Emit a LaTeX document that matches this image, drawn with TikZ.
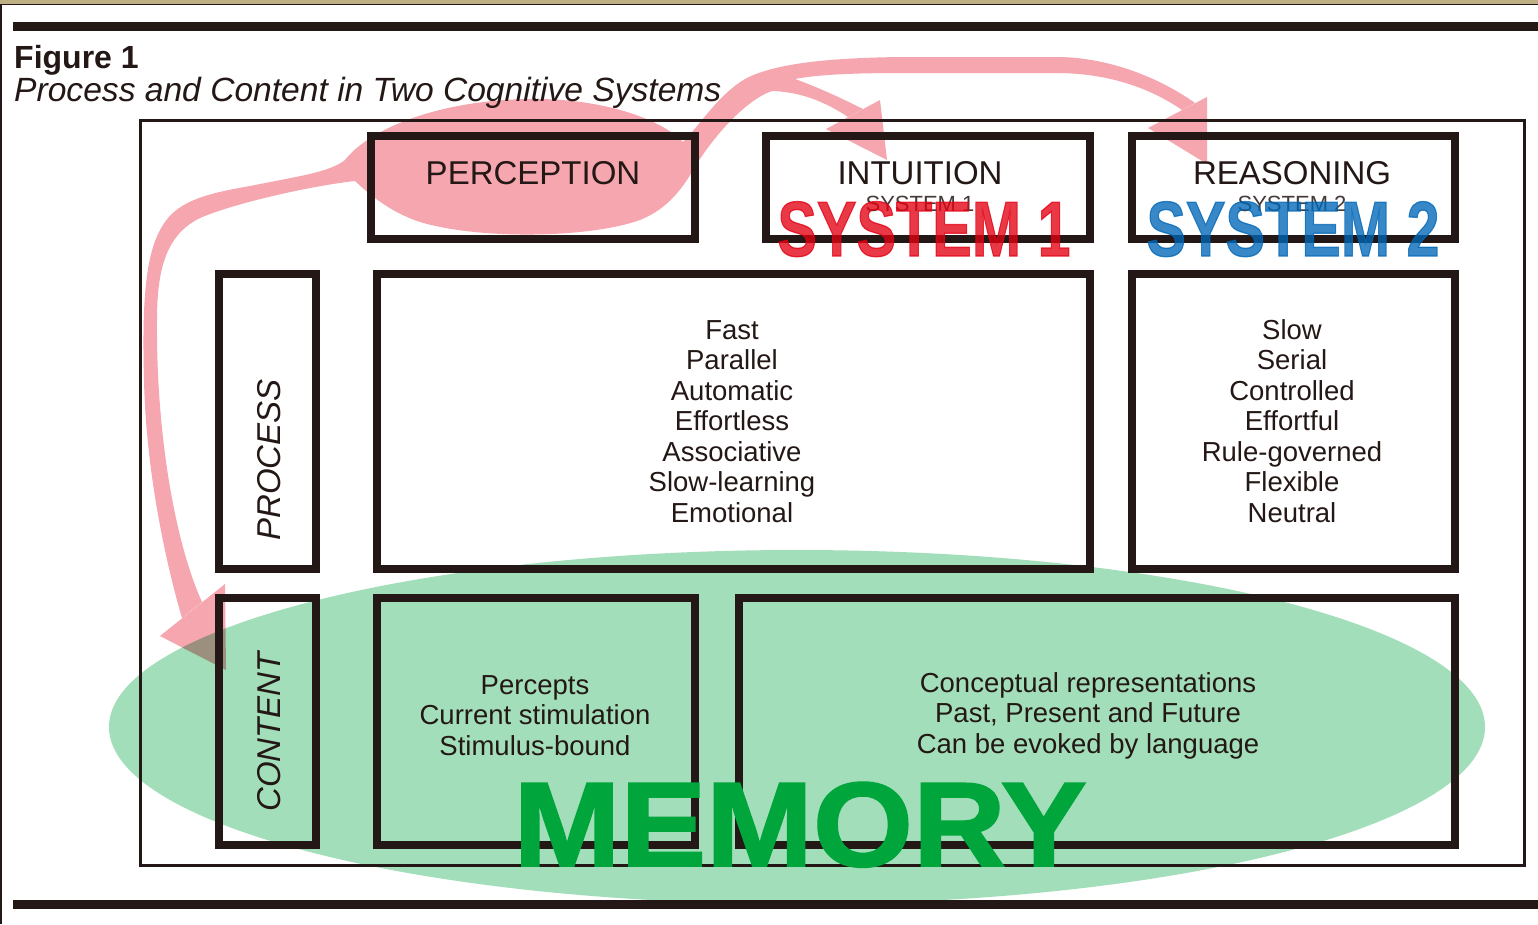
\documentclass[tikz,border=0pt]{standalone}
\usepackage{fontspec}
\setmainfont{Liberation Sans}
\newfontfamily\heavyfont[FakeBold=1.6]{Liberation Sans Bold}
\definecolor{ink}{RGB}{35,24,21}
\definecolor{pinkarrow}{RGB}{245,166,175}
\definecolor{memfill}{RGB}{162,222,185}
\definecolor{memtext}{RGB}{0,166,60}
\definecolor{sysred}{RGB}{227,0,18}
\definecolor{sysblue}{RGB}{0,102,182}
\definecolor{paper}{RGB}{190,176,130}

\begin{document}
\begin{tikzpicture}[x=1pt,y=-1pt,
  box/.style={draw=ink, line width=8pt, inner sep=0, outer sep=0},
  frame/.style={draw=ink, line width=3pt, inner sep=0, outer sep=0},
  bar/.style={draw=ink, line width=9pt},
  head/.style={font=\fontsize{33}{36}\selectfont, text=ink, anchor=base, inner sep=0},
  item/.style={font=\fontsize{27.5}{30}\selectfont, text=ink, anchor=base, inner sep=0},
  side/.style={font=\fontsize{33}{36}\selectfont\itshape, text=ink, rotate=90, inner sep=0},
  big/.style={font=\fontsize{78}{80}\selectfont\heavyfont, anchor=base, inner sep=0, opacity=0.78},
  small/.style={font=\fontsize{22}{24}\selectfont, text=ink!85, anchor=base, inner sep=0},
]
% page
\useasboundingbox (0,0) rectangle (1538,924);
\fill[white] (0,0) rectangle (1538,924);
\fill[paper] (0,0) rectangle (1538,4);
\draw[ink, line width=1pt] (0,4.5) -- (1538,4.5);
\draw[ink, line width=1.5pt] (0.75,4) -- (0.75,924);

% pink flow: perception feeding content, intuition and reasoning
\fill[pinkarrow]
  (345,160) .. controls (370,128) and (440,100) .. (530,99)
  .. controls (600,98) and (660,118) .. (683,142)
  .. controls (700,125) and (718,95) .. (745,79)
  .. controls (775,63) and (830,58) .. (900,57)
  -- (1060,57)
  .. controls (1110,58) and (1160,78) .. (1195,103)
  -- (1182,110)
  .. controls (1150,88) and (1110,74) .. (1060,73)
  -- (900,73)
  .. controls (850,73) and (815,75) .. (795,79)
  .. controls (820,88) and (845,100) .. (863,109)
  -- (848,117)
  .. controls (830,105) and (805,92) .. (772,91)
  .. controls (745,100) and (710,140) .. (692,172)
  .. controls (680,192) and (665,210) .. (640,220)
  .. controls (590,238) and (480,240) .. (420,222)
  .. controls (390,212) and (370,195) .. (355,181)
  .. controls (310,186) and (235,203) .. (200,218)
  .. controls (168,234) and (157,265) .. (157,320)
  .. controls (156,430) and (174,540) .. (202,602)
  -- (182,618)
  .. controls (165,560) and (146,470) .. (144,380)
  .. controls (142,300) and (145,250) .. (165,222)
  .. controls (180,200) and (210,193) .. (250,186)
  .. controls (300,176) and (330,172) .. (345,160) -- cycle;
\fill[pinkarrow] (880,100) -- (826,129) -- (887,160) -- cycle;
\fill[pinkarrow] (1207,97) -- (1148,128) -- (1207,164) -- cycle;
\fill[pinkarrow] (225,584) -- (160,636) -- (226,670) -- cycle;

% memory ellipse
\fill[memfill, blend mode=multiply] (797,727) ellipse [x radius=688, y radius=177];

% rules and frame
\draw[bar] (13,26.5) -- (1538,26.5);
\draw[bar] (13,904.5) -- (1538,904.5);
\node[frame, minimum width=1384.5, minimum height=745.5] (outer) at (832.25,492.75) {};

% boxes
\node[box, minimum width=324, minimum height=103] (perc) at (533,187.5) {};
\node[box, minimum width=324, minimum height=103] (intu) at (928,187.5) {};
\node[box, minimum width=323, minimum height=103] (reas) at (1293.5,187.5) {};
\node[box, minimum width=97, minimum height=295] (procbox) at (267.5,421.5) {};
\node[box, minimum width=713, minimum height=295] (procone) at (733.5,421.5) {};
\node[box, minimum width=323, minimum height=295] (proctwo) at (1293.5,421.5) {};
\node[box, minimum width=97, minimum height=247] (contbox) at (267.5,721.5) {};
\node[box, minimum width=318, minimum height=247] (contone) at (536,721.5) {};
\node[box, minimum width=716, minimum height=247] (conttwo) at (1097,721.5) {};

% titles
\node[anchor=base west, inner sep=0, text=ink, font=\fontsize{32}{34}\selectfont\bfseries] (fig) at (14,68) {Figure 1};
\node[anchor=base west, inner sep=0, text=ink, font=\fontsize{33.6}{36}\selectfont\itshape] (sub) at (14,101) {Process and Content in Two Cognitive Systems};

% box labels
\node[head] (lperc) at (533,184) {PERCEPTION};
\node[head] (lintu) at (920,184) {INTUITION};
\node[head] (lreas) at (1292,184) {REASONING};
\node[small] (sone) at (920,211) {SYSTEM 1};
\node[small] (stwo) at (1292,211) {SYSTEM 2};
\node[side] (lproc) at (269,460) {PROCESS};
\node[side] (lcont) at (269,732) {CONTENT};

% process lists
\foreach \t [count=\i] in {Fast,Parallel,Automatic,Effortless,Associative,Slow-learning,Emotional}
  \node[item] (pa\i) at (732,{339+30.5*(\i-1)}) {\t};
\foreach \t [count=\i] in {Slow,Serial,Controlled,Effortful,Rule-governed,Flexible,Neutral}
  \node[item] (pb\i) at (1292,{339+30.5*(\i-1)}) {\t};

% content lists
\foreach \t [count=\i] in {Percepts,Current stimulation,Stimulus-bound}
  \node[item] (ca\i) at (535,{694+30.5*(\i-1)}) {\t};
\foreach \t [count=\i] in {Conceptual representations,{Past, Present and Future},Can be evoked by language}
  \node[item] (cb\i) at (1088,{692+30.5*(\i-1)}) {\t};

% system tags
\node[big, text=sysred] (sysone) at (924,256) {\scalebox{0.76}[1]{SYSTEM 1}};
\node[big, text=sysblue] (systwo) at (1293,256) {\scalebox{0.76}[1]{SYSTEM 2}};

% memory tag
\node[anchor=base, inner sep=0, text=memtext, font=\fontsize{120}{120}\selectfont\heavyfont] (mem) at (800,866) {\scalebox{1.07}[1]{MEMORY}};
\end{tikzpicture}
\end{document}
